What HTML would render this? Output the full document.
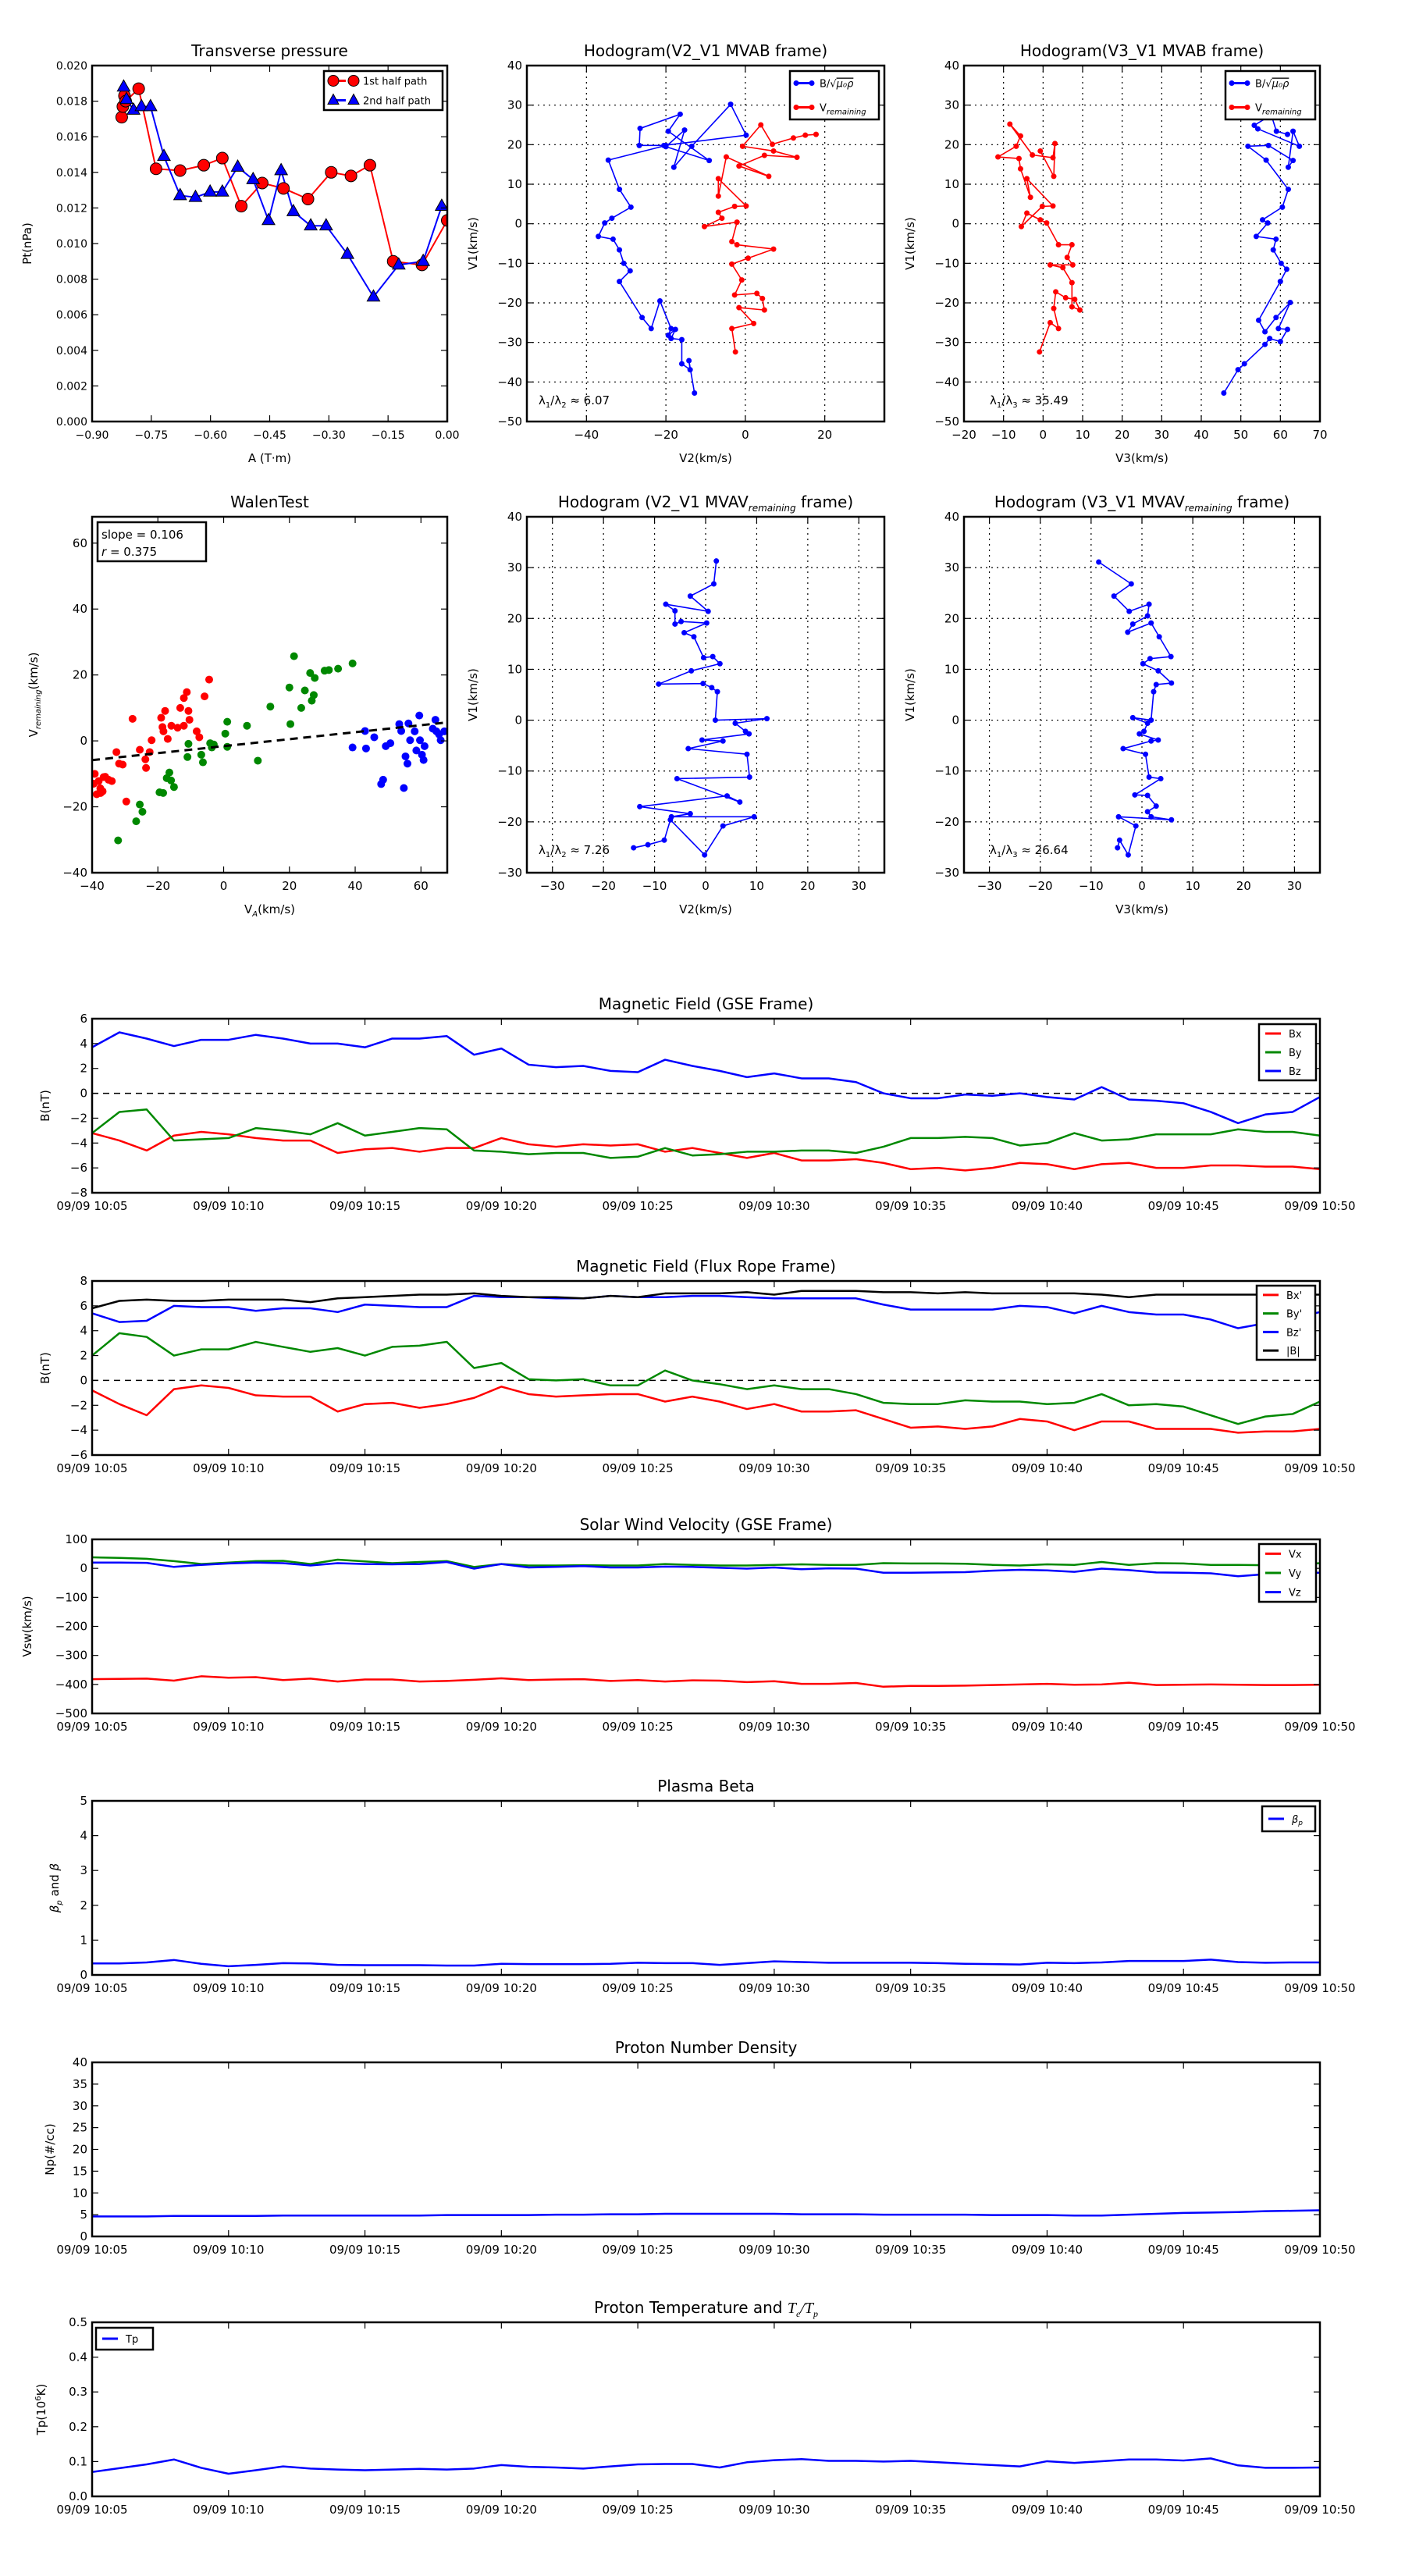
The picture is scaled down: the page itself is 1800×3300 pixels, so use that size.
<!DOCTYPE html>
<html><head><meta charset="utf-8"><title>Flux rope analysis</title>
<style>
html,body{margin:0;padding:0;background:#fff;}
svg{display:block;font-family:"DejaVu Sans","Liberation Sans",sans-serif;}
</style></head>
<body>
<svg id="fig" xmlns="http://www.w3.org/2000/svg" width="1800" height="3300" viewBox="0 0 1800 3300">
<rect x="0" y="0" width="1800" height="3300" fill="#fff"/>
</svg>
<script>
// ---------- DATA ----------
const ptRedA=[-0.825,-0.822,-0.818,-0.815,-0.782,-0.738,-0.677,-0.617,-0.570,-0.522,-0.469,-0.415,-0.353,-0.294,-0.244,-0.196,-0.137,-0.064,0.0];
const ptRedP=[0.0171,0.0177,0.0183,0.0180,0.0187,0.0142,0.0141,0.0144,0.0148,0.0121,0.0134,0.0131,0.0125,0.0140,0.0138,0.0144,0.0090,0.0088,0.0113];
const ptBlueA=[-0.820,-0.813,-0.795,-0.775,-0.752,-0.718,-0.677,-0.638,-0.601,-0.570,-0.531,-0.492,-0.453,-0.421,-0.390,-0.346,-0.307,-0.253,-0.187,-0.123,-0.061,-0.014];
const ptBlueP=[0.0188,0.0181,0.0175,0.0177,0.0177,0.0149,0.0127,0.0126,0.0129,0.0129,0.0143,0.0136,0.0113,0.0141,0.0118,0.0110,0.0110,0.0094,0.0070,0.0088,0.0090,0.0121];

const h1BlueX=[-12.8,-14.2,-13.9,-16,-16,-18.7,-17.6,-19.4,-18.7,-21.5,-23.7,-26,-31.7,-29,-30.6,-31.7,-33.3,-37,-35.4,-33.6,-28.8,-31.7,-34.5,-20,-26.7,-26.5,-16.4,-19.4,-9.1,-20,-15.3,-18,-13.5,-3.7,0.2,-20.5];
const h1BlueY=[-42.8,-34.6,-36.9,-35.4,-29.3,-29,-26.7,-28.2,-26.5,-19.5,-26.5,-23.7,-14.6,-11.9,-10,-6.6,-3.9,-3.2,0.2,1.4,4.2,8.7,16.1,19.8,19.8,24.1,27.7,23.4,16,19.5,23.7,14.3,19.6,30.2,22.4,19.8];
const h1RedX=[-2.5,-3.4,2.1,-1.6,4.8,4.3,2.9,-2.7,-0.9,-3.4,0.7,7.1,-2.1,-3.4,-2.1,-10.3,-5.9,-6.8,-2.7,0.2,-6.8,-6.8,-4.8,5.9,-1.6,4.8,13,7.1,-0.7,3.9,6.8,12.1,15.1,17.8];
const h1RedY=[-32.4,-26.5,-25.2,-21.2,-21.8,-18.9,-17.6,-18,-14.2,-10.2,-8.7,-6.4,-5.3,-4.5,0.4,-0.7,1.4,2.9,4.4,4.5,11.4,7,16.9,12,14.6,17.3,16.8,18.4,19.6,25,20.1,21.7,22.4,22.6];

const h2BlueX=[45.7,49.3,50.9,56.1,57.3,60,61.8,59.5,62.5,58.9,56.1,54.5,60,61.6,60.2,58.2,58.9,53.9,56.8,55.5,60.5,62,56.4,51.8,57,63.2,62,63.2,64.8,54.3,53.4,57.7,59,61.8];
const h2BlueY=[-42.8,-36.9,-35.4,-30.5,-29,-29.8,-26.7,-26.5,-19.9,-23.7,-27.3,-24.4,-14.6,-11.5,-10,-6.6,-3.9,-3.2,0.2,1,4.2,8.7,16.1,19.6,19.8,16,14.3,23.4,19.6,24,24.9,27.5,23.4,22.6];
const h2RedX=[-0.9,1.8,3.9,2.7,3.2,5.7,8,9.3,7.3,7.3,5,1.8,7.5,6.1,7.3,3.9,0.9,-0.7,-4.1,-5.5,-0.2,2.5,-4.1,-3.2,-5.7,-6.1,-11.4,-6.8,-5.7,-8.4,-2.7,2.5,3,2.7,-0.7];
const h2RedY=[-32.4,-25,-26.5,-21.4,-17.2,-18.7,-19.1,-21.8,-21,-14.9,-11.1,-10.4,-10.4,-8.5,-5.3,-5.3,0.2,1,2.7,-0.7,4.4,4.5,11.4,6.7,13.9,16.5,16.9,19.6,22.2,25.2,17.4,16.7,20.3,12,18.4];

const walenRedX=[-27.7,-32.6,-31.8,-30.7,-29.6,-39.2,-38,-37.5,-36.8,-36,-35,-34,-38.6,-37.4,-39.5,-36.5,-25.5,-23.8,-23.6,-22.5,-21.9,-18.6,-17.8,-18.3,-17,-15.9,-13.2,-12.1,-11.2,-10.7,-10.4,-12.1,-8.2,-7.4,-5.8,-4.4,-14,-19];
const walenRedY=[6.7,-3.4,-6.9,-7.2,-18.4,-10,-12.2,-14.4,-15.3,-10.9,-11.8,-12.2,-16.2,-15.8,-13,-11,-2.7,-5.6,-8.2,-3.4,0.2,4.2,9.1,2.9,0.6,4.6,10,13,14.8,9.1,6.4,4.6,2.9,1.1,13.5,18.6,4,7];
const walenGreenX=[-32.1,-26.6,-24.7,-25.5,-18.4,-17.3,-16.5,-16,-15.1,-19.5,-11,-10.7,-6.8,-6.3,-4.1,-3,-3.6,0.5,1.1,1.1,7.1,10.4,14.2,20.3,20,21.4,23.6,24.7,26.8,27.4,26.3,27.7,30.7,32,34.8,39.2];
const walenGreenY=[-30.2,-24.4,-21.5,-19.3,-15.8,-11.3,-9.6,-12,-14,-15.6,-4.9,-0.9,-4.2,-6.5,-0.7,-1.1,-2,2.2,5.8,-1.8,4.6,-6,10.4,5.1,16.2,25.7,10,15.3,12.2,13.9,20.6,19.1,21.3,21.5,21.9,23.5];
const walenBlueX=[39.2,43,43.3,45.8,47.9,48.5,49.3,50.7,53.4,54,54.8,55.3,55.9,56.2,56.7,58.1,58.6,59.5,59.7,60.3,60.8,61.1,64.4,64.7,65.5,66,67.1,63.6];
const walenBlueY=[-2,3,-2.3,1.1,-13.1,-11.8,-1.6,-0.7,5.1,3,-14.3,-4.7,-6.9,5.3,0.2,2.9,-2.9,7.7,0.2,-4.2,-5.8,-1.6,6.4,2.9,2,0.2,2.9,3.7];
const walenSlope=0.106;
const walenIntercept=-1.6;

const m2X=[2.1,1.6,-3,0.5,-7.8,-6,-6,-4.8,0.2,-4.2,-2.3,-0.4,1.4,2.8,-2.8,-9.2,-0.5,1.2,2.3,1.9,12,5.8,7.8,8.5,-0.7,3.4,-3.4,8.1,8.6,-5.6,6.7,4.2,-12.9,-3,-6.7,9.5,3.4,-0.2,-6.9,-8.1,-11.3,-14.1];
const m2Y=[31.3,26.8,24.4,21.4,22.8,21.5,18.9,19.4,19.1,17.2,16.4,12.3,12.5,11.1,9.7,7.1,7.2,6.4,5.6,0,0.3,-0.6,-2.2,-2.7,-3.9,-4.1,-5.6,-6.7,-11.2,-11.5,-16.1,-14.9,-17,-18.4,-19,-19,-20.8,-26.5,-19.6,-23.6,-24.5,-25.1];
const m3X=[-8.5,-2.1,-5.5,-2.5,1.4,1.1,-1.8,-2.8,1.8,3.4,5.7,1.6,0.2,3.2,5.8,2.8,2.3,1.8,-1.8,1.1,0.4,-0.5,3.2,1.8,-3.7,0.7,1.4,3.7,-1.4,1.1,2.8,1.1,1.8,5.8,-4.6,-1.2,-2.7,-4.4,-4.8];
const m3Y=[31.1,26.8,24.4,21.4,22.8,20.5,18.9,17.3,19.1,16.4,12.5,12.1,11.1,9.7,7.3,7,5.6,0,0.5,-0.6,-2.2,-2.7,-3.9,-4.1,-5.6,-6.7,-11.2,-11.5,-14.7,-14.8,-16.9,-18,-19,-19.6,-19,-20.8,-26.5,-23.6,-25.1];

const timeTickLabels=["09/09 10:05","09/09 10:10","09/09 10:15","09/09 10:20","09/09 10:25","09/09 10:30","09/09 10:35","09/09 10:40","09/09 10:45","09/09 10:50"];
const gseBx=[-3.2,-3.8,-4.6,-3.4,-3.1,-3.3,-3.6,-3.8,-3.8,-4.8,-4.5,-4.4,-4.7,-4.4,-4.4,-3.6,-4.1,-4.3,-4.1,-4.2,-4.1,-4.7,-4.4,-4.8,-5.2,-4.8,-5.4,-5.4,-5.3,-5.6,-6.1,-6.0,-6.2,-6.0,-5.6,-5.7,-6.1,-5.7,-5.6,-6.0,-6.0,-5.8,-5.8,-5.9,-5.9,-6.1];
const gseBy=[-3.2,-1.5,-1.3,-3.8,-3.7,-3.6,-2.8,-3.0,-3.3,-2.4,-3.4,-3.1,-2.8,-2.9,-4.6,-4.7,-4.9,-4.8,-4.8,-5.2,-5.1,-4.4,-5.0,-4.9,-4.7,-4.7,-4.6,-4.6,-4.8,-4.3,-3.6,-3.6,-3.5,-3.6,-4.2,-4.0,-3.2,-3.8,-3.7,-3.3,-3.3,-3.3,-2.9,-3.1,-3.1,-3.4];
const gseBz=[3.7,4.9,4.4,3.8,4.3,4.3,4.7,4.4,4.0,4.0,3.7,4.4,4.4,4.6,3.1,3.6,2.3,2.1,2.2,1.8,1.7,2.7,2.2,1.8,1.3,1.6,1.2,1.2,0.9,0.0,-0.4,-0.4,-0.1,-0.2,0.0,-0.3,-0.5,0.5,-0.5,-0.6,-0.8,-1.5,-2.4,-1.7,-1.5,-0.3];
const frBx=[-0.8,-1.9,-2.8,-0.7,-0.4,-0.6,-1.2,-1.3,-1.3,-2.5,-1.9,-1.8,-2.2,-1.9,-1.4,-0.5,-1.1,-1.3,-1.2,-1.1,-1.1,-1.7,-1.3,-1.7,-2.3,-1.9,-2.5,-2.5,-2.4,-3.1,-3.8,-3.7,-3.9,-3.7,-3.1,-3.3,-4.0,-3.3,-3.3,-3.9,-3.9,-3.9,-4.2,-4.1,-4.1,-3.9];
const frBy=[2.0,3.8,3.5,2.0,2.5,2.5,3.1,2.7,2.3,2.6,2.0,2.7,2.8,3.1,1.0,1.4,0.1,0.0,0.1,-0.4,-0.4,0.8,0.0,-0.3,-0.7,-0.4,-0.7,-0.7,-1.1,-1.8,-1.9,-1.9,-1.6,-1.7,-1.7,-1.9,-1.8,-1.1,-2.0,-1.9,-2.1,-2.8,-3.5,-2.9,-2.7,-1.7];
const frBz=[5.4,4.7,4.8,6.0,5.9,5.9,5.6,5.8,5.8,5.5,6.1,6.0,5.9,5.9,6.8,6.7,6.7,6.6,6.6,6.8,6.7,6.7,6.8,6.8,6.7,6.6,6.6,6.6,6.6,6.1,5.7,5.7,5.7,5.7,6.0,5.9,5.4,6.0,5.5,5.3,5.3,4.9,4.2,4.6,5.0,5.5];
const frBt=[5.8,6.4,6.5,6.4,6.4,6.5,6.5,6.5,6.3,6.6,6.7,6.8,6.9,6.9,7.0,6.8,6.7,6.7,6.6,6.8,6.7,7.0,7.0,7.0,7.1,6.9,7.2,7.2,7.2,7.1,7.1,7.0,7.1,7.0,7.0,7.0,7.0,6.9,6.7,6.9,6.9,6.9,6.9,6.9,6.9,6.9];
const swVx=[-382,-381,-380,-387,-372,-377,-375,-385,-380,-390,-383,-383,-390,-388,-384,-379,-385,-383,-382,-388,-385,-390,-386,-387,-392,-389,-398,-398,-395,-408,-405,-405,-404,-402,-400,-398,-401,-400,-394,-402,-401,-400,-401,-402,-402,-401];
const swVy=[38,36,33,25,15,20,25,26,15,30,24,18,22,25,5,15,10,10,11,10,10,15,12,10,10,12,14,12,12,18,17,17,16,12,10,14,12,22,12,18,17,12,12,11,12,18];
const swVz=[20,20,19,5,12,17,20,18,10,18,15,14,15,22,-1,15,3,5,8,3,3,6,5,2,-1,3,-3,0,-1,-15,-15,-14,-13,-8,-5,-7,-12,-1,-6,-14,-15,-17,-27,-20,-15,-15];
const betaP=[0.33,0.33,0.36,0.43,0.32,0.25,0.29,0.34,0.33,0.29,0.28,0.28,0.28,0.27,0.27,0.32,0.31,0.31,0.31,0.32,0.35,0.34,0.34,0.29,0.34,0.39,0.37,0.35,0.35,0.35,0.35,0.34,0.32,0.31,0.30,0.35,0.34,0.36,0.40,0.40,0.40,0.44,0.37,0.35,0.36,0.36];
const densNp=[4.6,4.6,4.6,4.7,4.7,4.7,4.7,4.8,4.8,4.8,4.8,4.8,4.8,4.9,4.9,4.9,4.9,5.0,5.0,5.1,5.1,5.2,5.2,5.2,5.2,5.2,5.1,5.1,5.1,5.0,5.0,5.0,5.0,4.9,4.9,4.9,4.8,4.8,5.0,5.2,5.4,5.5,5.6,5.8,5.9,6.0];
const tempTp=[0.070,0.081,0.092,0.106,0.082,0.065,0.075,0.086,0.080,0.077,0.075,0.077,0.079,0.077,0.080,0.090,0.085,0.083,0.080,0.086,0.092,0.093,0.093,0.083,0.098,0.104,0.107,0.102,0.102,0.100,0.102,0.098,0.094,0.090,0.086,0.101,0.096,0.101,0.106,0.106,0.103,0.109,0.089,0.082,0.082,0.083];

// ---------- HELPERS ----------
const NS="http://www.w3.org/2000/svg";
const fig=document.getElementById('fig');
function el(tag,attrs,parent){const e=document.createElementNS(NS,tag);for(const k in attrs)e.setAttribute(k,attrs[k]);(parent||fig).appendChild(e);return e;}
let clipId=0;
function makeAxes(o){
  const g=el('g',{});
  
  
  const sx=v=>o.x0+(v-o.xmin)/(o.xmax-o.xmin)*o.w;
  const sy=v=>o.y0+o.h-(v-o.ymin)/(o.ymax-o.ymin)*o.h;
  const cid='c'+(clipId++);
  const cp=el('clipPath',{id:cid},g);el('rect',{x:o.x0,y:o.y0,width:o.w,height:o.h},cp);
  if(o.grid){
    o.xticks.forEach(t=>{const l=el('line',{x1:sx(t),x2:sx(t),y1:o.y0,y2:o.y0+o.h,stroke:'#000','stroke-width':1.2,'stroke-dasharray':'2,5'},g);
      
      });
    o.yticks.forEach(t=>{const l=el('line',{x1:o.x0,x2:o.x0+o.w,y1:sy(t),y2:sy(t),stroke:'#000','stroke-width':1.2,'stroke-dasharray':'2,5'},g);
      
      });
  }
  const data=el('g',{'clip-path':'url(#'+cid+')'},g);
  
  
  const fr=el('rect',{x:o.x0,y:o.y0,width:o.w,height:o.h,fill:'none',stroke:'#000','stroke-width':2.5});
  
  
  g.appendChild(fr);
  const tl=8;
  o.xticks.forEach((t,i)=>{const x=sx(t);
    el('line',{x1:x,x2:x,y1:o.y0+o.h,y2:o.y0+o.h-tl,stroke:'#000','stroke-width':1.2},g);
    el('line',{x1:x,x2:x,y1:o.y0,y2:o.y0+tl,stroke:'#000','stroke-width':1.2},g);
    const tx=el('text',{x:x,y:o.y0+o.h+22,'text-anchor':'middle','font-size':o.tfs||15},g);
    tx.textContent=o.xlabels?o.xlabels[i]:o.xfmt(t);
    
    });
  o.yticks.forEach((t,i)=>{const y=sy(t);
    el('line',{x1:o.x0,x2:o.x0+tl,y1:y,y2:y,stroke:'#000','stroke-width':1.2},g);
    el('line',{x1:o.x0+o.w,x2:o.x0+o.w-tl,y1:y,y2:y,stroke:'#000','stroke-width':1.2},g);
    const tx=el('text',{x:o.x0-6,y:y+5,'text-anchor':'end','font-size':o.tfs||15},g);
    tx.textContent=o.yfmt(t);
    
    });
  const ti=el('text',{x:o.x0+o.w/2,y:o.y0-12,'text-anchor':'middle','font-size':20},g);
  ti.innerHTML=o.title;
  
  
  if(o.xlabel){const xl=el('text',{x:o.x0+o.w/2,y:o.y0+o.h+52,'text-anchor':'middle','font-size':15},g);
    xl.innerHTML=o.xlabel;
    
    }
  if(o.ylabel){const yl=el('text',{x:0,y:0,'text-anchor':'middle','font-size':15,transform:'translate('+o.ylx+','+(o.y0+o.h/2)+') rotate(-90)'},g);
    yl.innerHTML=o.ylabel;
    
    }
  return {sx,sy,data,g};
}
function polyline(ax,xs,ys,color,w,name){
  const p=el('polyline',{points:xs.map((x,i)=>ax.sx(x)+','+ax.sy(ys[i])).join(' '),fill:'none',stroke:color,'stroke-width':w,'stroke-linejoin':'round'},ax.data);
  
  
  return p;
}
function dots(ax,xs,ys,color,r,name,edge){
  xs.forEach((x,i)=>{const c=el('circle',{cx:ax.sx(x),cy:ax.sy(ys[i]),r:r,fill:color,stroke:edge||'none','stroke-width':1},ax.data);
    
    });
}
function tris(ax,xs,ys,color,s,name){
  xs.forEach((x,i)=>{const X=ax.sx(x),Y=ax.sy(ys[i]);
    const t=el('polygon',{points:(X)+','+(Y-s)+' '+(X-s*0.9)+','+(Y+s*0.6)+' '+(X+s*0.9)+','+(Y+s*0.6),fill:color,stroke:'#000','stroke-width':1},ax.data);
    
    });
}
function legend(x,y,w,h,entries,name,fs){
  const g=el('g',{});
  
  
  el('rect',{x:x,y:y,width:w,height:h,fill:'#fff',stroke:'#000','stroke-width':2.5},g);
  const step=h/entries.length;
  entries.forEach((e,i)=>{const cy=y+step*(i+0.5);
    const ent=el('g',{},g);
    
    
    el('line',{x1:x+8,x2:x+28,y1:cy,y2:cy,stroke:e.c,'stroke-width':3},ent);
    if(e.m==='dot'){el('circle',{cx:x+8,cy:cy,r:3.5,fill:e.c},ent);el('circle',{cx:x+28,cy:cy,r:3.5,fill:e.c},ent);}
    if(e.m==='big'){[x+12,x+38].forEach(cx=>el('circle',{cx:cx,cy:cy,r:7,fill:e.c,stroke:'#000'},ent));}
    if(e.m==='tri'){[x+12,x+38].forEach(cx=>el('polygon',{points:cx+','+(cy-8)+' '+(cx-7)+','+(cy+5)+' '+(cx+7)+','+(cy+5),fill:e.c,stroke:'#000'},ent));}
    const t=el('text',{x:x+(e.m==='big'||e.m==='tri'?50:38),y:cy+5,'font-size':fs||13},ent);
    t.innerHTML=e.t;});
}
function txt(x,y,s,fs,name,anchor){const t=el('text',{x:x,y:y,'font-size':fs,'text-anchor':anchor||'start'});t.innerHTML=s;
  
  return t;}
const rng=(a,b,s)=>{const r=[];for(let v=a;v<=b+1e-9;v+=s)r.push(+v.toFixed(6));return r;};
const intf=v=>String(Math.round(v)).replace('-','\u2212');

// ---------- TOP ROW ----------
const VREM='V<tspan font-size="10" dy="4" font-style="italic">remaining</tspan>';
const BALF='B/√<tspan text-decoration="overline" font-style="italic">μ₀ρ</tspan>';
const X1=[118,675,1235],W1=[455,458,456];
let ax=makeAxes({name:'transverse-pressure-chart',x0:118,y0:84,w:455,h:456,xmin:-0.9,xmax:0,ymin:0,ymax:0.02,
  xticks:rng(-0.9,0,0.15),yticks:rng(0,0.02,0.002),xfmt:v=>v.toFixed(2).replace('-','\u2212'),yfmt:v=>v.toFixed(3),
  title:'Transverse pressure',xlabel:'A (T·m)',ylabel:'Pt(nPa)',ylx:40,tfs:14});
polyline(ax,ptRedA,ptRedP,'#f00',2,'first-half-line');
polyline(ax,ptBlueA,ptBlueP,'#00f',2,'second-half-line');
dots(ax,ptRedA,ptRedP,'#f00',7.5,'first-half-point','#000');
tris(ax,ptBlueA,ptBlueP,'#00f',9,'second-half-point');
legend(415,91,152,50,[{c:'#f00',m:'big',t:'1st half path'},{c:'#00f',m:'tri',t:'2nd half path'}],'pressure-legend',13);

ax=makeAxes({name:'hodogram-v2-v1-mvab',x0:675,y0:84,w:458,h:456,xmin:-55,xmax:35,ymin:-50,ymax:40,grid:true,
  xticks:[-40,-20,0,20],yticks:rng(-50,40,10),xfmt:intf,yfmt:intf,title:'Hodogram(V2_V1 MVAB frame)',xlabel:'V2(km/s)',ylabel:'V1(km/s)',ylx:611});
polyline(ax,h1BlueX,h1BlueY,'#00f',1.6,'alfven-b-path');dots(ax,h1BlueX,h1BlueY,'#00f',3.5,'alfven-b-point');
polyline(ax,h1RedX,h1RedY,'#f00',1.6,'v-remaining-path');dots(ax,h1RedX,h1RedY,'#f00',3.5,'v-remaining-point');
legend(1012,91,114,62,[{c:'#00f',m:'dot',t:BALF},{c:'#f00',m:'dot',t:VREM}],'hodogram-legend',13);
txt(690,518,'λ<tspan font-size="10" dy="4">1</tspan><tspan dy="-4">/λ</tspan><tspan font-size="10" dy="4">2</tspan><tspan dy="-4"> ≈ 6.07</tspan>',15,'eigenvalue-ratio');

ax=makeAxes({name:'hodogram-v3-v1-mvab',x0:1235,y0:84,w:456,h:456,xmin:-20,xmax:70,ymin:-50,ymax:40,grid:true,
  xticks:rng(-20,70,10),yticks:rng(-50,40,10),xfmt:intf,yfmt:intf,title:'Hodogram(V3_V1 MVAB frame)',xlabel:'V3(km/s)',ylabel:'V1(km/s)',ylx:1171});
polyline(ax,h2BlueX,h2BlueY,'#00f',1.6,'alfven-b-path');dots(ax,h2BlueX,h2BlueY,'#00f',3.5,'alfven-b-point');
polyline(ax,h2RedX,h2RedY,'#f00',1.6,'v-remaining-path');dots(ax,h2RedX,h2RedY,'#f00',3.5,'v-remaining-point');
legend(1570,91,115,62,[{c:'#00f',m:'dot',t:BALF},{c:'#f00',m:'dot',t:VREM}],'hodogram-legend',13);
txt(1268,518,'λ<tspan font-size="10" dy="4">1</tspan><tspan dy="-4">/λ</tspan><tspan font-size="10" dy="4">3</tspan><tspan dy="-4"> ≈ 35.49</tspan>',15,'eigenvalue-ratio');

// ---------- SECOND ROW ----------
ax=makeAxes({name:'walen-test-chart',x0:118,y0:662,w:455,h:456,xmin:-40,xmax:68,ymin:-40,ymax:68,
  xticks:rng(-40,60,20),yticks:rng(-40,60,20),xfmt:intf,yfmt:intf,title:'WalenTest',
  xlabel:'V<tspan font-size="10" dy="4" font-style="italic">A</tspan><tspan dy="-4">(km/s)</tspan>',ylabel:VREM+'<tspan dy="-4">(km/s)</tspan>',ylx:48});
dots(ax,walenRedX,walenRedY,'#f00',5,'walen-red-point');
dots(ax,walenGreenX,walenGreenY,'#080',5,'walen-green-point');
dots(ax,walenBlueX,walenBlueY,'#00f',5,'walen-blue-point');
(function(){const xs=[-40,68];const l=el('line',{x1:ax.sx(xs[0]),y1:ax.sy(walenSlope*xs[0]+walenIntercept),x2:ax.sx(xs[1]),y2:ax.sy(walenSlope*xs[1]+walenIntercept),stroke:'#000','stroke-width':3,'stroke-dasharray':'10,7'},ax.data);

})();
(function(){const g=el('g',{});


el('rect',{x:125,y:669,width:139,height:50,fill:'#fff',stroke:'#000','stroke-width':2.5},g);
const a=el('text',{x:130,y:690,'font-size':15},g);a.textContent='slope = 0.106';
const b=el('text',{x:130,y:712,'font-size':15},g);b.innerHTML='<tspan font-style="italic">r</tspan> = 0.375';})();

ax=makeAxes({name:'hodogram-v2-v1-mvav',x0:675,y0:662,w:458,h:456,xmin:-35,xmax:35,ymin:-30,ymax:40,grid:true,
  xticks:rng(-30,30,10),yticks:rng(-30,40,10),xfmt:intf,yfmt:intf,
  title:'Hodogram (V2_V1 MVAV<tspan font-size="12" dy="5" font-style="italic">remaining</tspan><tspan dy="-5"> frame)</tspan>',xlabel:'V2(km/s)',ylabel:'V1(km/s)',ylx:611});
polyline(ax,m2X,m2Y,'#00f',1.6,'hodogram-path');dots(ax,m2X,m2Y,'#00f',3.5,'hodogram-point');
txt(690,1094,'λ<tspan font-size="10" dy="4">1</tspan><tspan dy="-4">/λ</tspan><tspan font-size="10" dy="4">2</tspan><tspan dy="-4"> ≈ 7.26</tspan>',15,'eigenvalue-ratio');

ax=makeAxes({name:'hodogram-v3-v1-mvav',x0:1235,y0:662,w:456,h:456,xmin:-35,xmax:35,ymin:-30,ymax:40,grid:true,
  xticks:rng(-30,30,10),yticks:rng(-30,40,10),xfmt:intf,yfmt:intf,
  title:'Hodogram (V3_V1 MVAV<tspan font-size="12" dy="5" font-style="italic">remaining</tspan><tspan dy="-5"> frame)</tspan>',xlabel:'V3(km/s)',ylabel:'V1(km/s)',ylx:1171});
polyline(ax,m3X,m3Y,'#00f',1.6,'hodogram-path');dots(ax,m3X,m3Y,'#00f',3.5,'hodogram-point');
txt(1268,1094,'λ<tspan font-size="10" dy="4">1</tspan><tspan dy="-4">/λ</tspan><tspan font-size="10" dy="4">3</tspan><tspan dy="-4"> ≈ 26.64</tspan>',15,'eigenvalue-ratio');

// ---------- TIME SERIES ----------
const minutes=gseBx.map((_,i)=>i);
const tticks=rng(0,45,5);
function tsAxes(name,y0,ymin,ymax,yticks,yfmt,title,ylabel,ylx){
  return makeAxes({name:name,x0:118,y0:y0,w:1573,h:223,xmin:0,xmax:45,ymin:ymin,ymax:ymax,xticks:tticks,xlabels:timeTickLabels,
    yticks:yticks,yfmt:yfmt,title:title,ylabel:ylabel,ylx:ylx});
}
function zeroLine(ax){const l=el('line',{x1:ax.sx(0),x2:ax.sx(45),y1:ax.sy(0),y2:ax.sy(0),stroke:'#000','stroke-width':1.5,'stroke-dasharray':'8,6'},ax.data);
  
  }

ax=tsAxes('magnetic-field-gse-chart',1305,-8,6,rng(-8,6,2),intf,'Magnetic Field (GSE Frame)','B(nT)',63);
zeroLine(ax);
polyline(ax,minutes,gseBx,'#f00',2.5,'bx-line');polyline(ax,minutes,gseBy,'#080',2.5,'by-line');polyline(ax,minutes,gseBz,'#00f',2.5,'bz-line');
legend(1613,1312,73,72,[{c:'#f00',t:'Bx'},{c:'#080',t:'By'},{c:'#00f',t:'Bz'}],'gse-legend',13);

ax=tsAxes('magnetic-field-flux-rope-chart',1641,-6,8,rng(-6,8,2),intf,'Magnetic Field (Flux Rope Frame)','B(nT)',63);
zeroLine(ax);
polyline(ax,minutes,frBx,'#f00',2.5,'bx-prime-line');polyline(ax,minutes,frBy,'#080',2.5,'by-prime-line');
polyline(ax,minutes,frBz,'#00f',2.5,'bz-prime-line');polyline(ax,minutes,frBt,'#000',2.5,'b-magnitude-line');
legend(1610,1647,75,95,[{c:'#f00',t:"Bx'"},{c:'#080',t:"By'"},{c:'#00f',t:"Bz'"},{c:'#000',t:'|B|'}],'flux-rope-legend',13);

ax=tsAxes('solar-wind-velocity-chart',1972,-500,100,rng(-500,100,100),intf,'Solar Wind Velocity (GSE Frame)','Vsw(km/s)',40);
polyline(ax,minutes,swVx,'#f00',2.5,'vx-line');polyline(ax,minutes,swVy,'#080',2.5,'vy-line');polyline(ax,minutes,swVz,'#00f',2.5,'vz-line');
legend(1613,1978,73,74,[{c:'#f00',t:'Vx'},{c:'#080',t:'Vy'},{c:'#00f',t:'Vz'}],'velocity-legend',13);

ax=tsAxes('plasma-beta-chart',2307,0,5,rng(0,5,1),intf,'Plasma Beta','<tspan font-style="italic">β<tspan font-size="10" dy="4">p</tspan></tspan><tspan dy="-4"> and </tspan><tspan font-style="italic">β</tspan>',75);
polyline(ax,minutes,betaP,'#00f',2.5,'beta-p-line');
legend(1617,2314,68,32,[{c:'#00f',t:'<tspan font-style="italic">β<tspan font-size="9" dy="3">p</tspan></tspan>'}],'beta-legend',13);

ax=tsAxes('proton-density-chart',2642,0,40,rng(0,40,5),intf,'Proton Number Density','Np(#/cc)',69);
polyline(ax,minutes,densNp,'#00f',2.5,'density-line');

ax=tsAxes('proton-temperature-chart',2975,0,0.5,rng(0,0.5,0.1),v=>v.toFixed(1),'Proton Temperature and <tspan font-style="italic" font-family="Liberation Serif">T<tspan font-size="12" dy="5">e</tspan><tspan dy="-5">/T</tspan><tspan font-size="12" dy="5">p</tspan></tspan>','Tp(10<tspan font-size="10" dy="-6">6</tspan><tspan dy="6">K)</tspan>',58);
polyline(ax,minutes,tempTp,'#00f',2.5,'temperature-line');
legend(123,2982,73,28,[{c:'#00f',t:'Tp'}],'temperature-legend',13);
</script>
</body></html>
